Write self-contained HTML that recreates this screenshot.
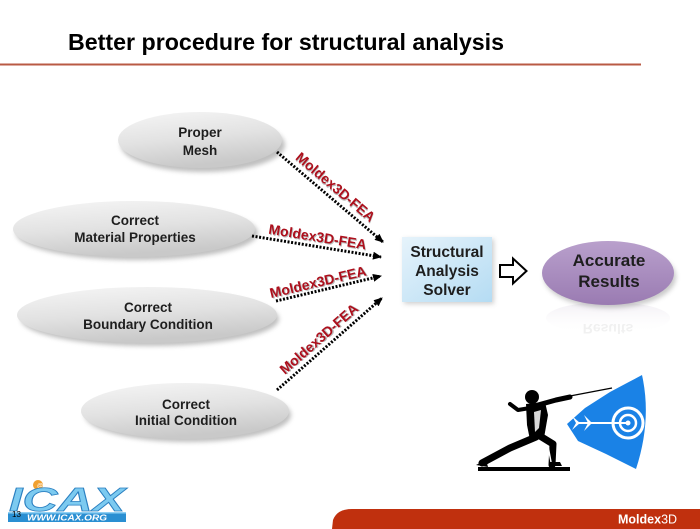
<!DOCTYPE html>
<html><head><meta charset="utf-8">
<style>
html,body{margin:0;padding:0;background:#fff;}
svg{display:block;}
text{font-family:"Liberation Sans",Arial,sans-serif;}
</style></head>
<body>
<svg width="700" height="529" viewBox="0 0 700 529" xmlns="http://www.w3.org/2000/svg">
<defs>
  <linearGradient id="gEll" x1="0" y1="0" x2="0.3" y2="1">
    <stop offset="0" stop-color="#f6f6f6"/>
    <stop offset="0.55" stop-color="#e2e2e2"/>
    <stop offset="1" stop-color="#c9c9c9"/>
  </linearGradient>
  <linearGradient id="gBox" x1="0" y1="0" x2="1" y2="1">
    <stop offset="0" stop-color="#e6f3fb"/>
    <stop offset="1" stop-color="#b5dcf3"/>
  </linearGradient>
  <linearGradient id="gPur" x1="0" y1="0" x2="0" y2="1">
    <stop offset="0" stop-color="#b9a0cc"/>
    <stop offset="1" stop-color="#9a7bb2"/>
  </linearGradient>
  <linearGradient id="gRefl" x1="0" y1="0" x2="0" y2="1">
    <stop offset="0" stop-color="#c8bcd2" stop-opacity="0.25"/>
    <stop offset="1" stop-color="#ffffff" stop-opacity="0"/>
  </linearGradient>
  <filter id="blur" x="-20%" y="-40%" width="140%" height="180%">
    <feGaussianBlur stdDeviation="2.5"/>
  </filter>
  <marker id="ah" markerWidth="10" markerHeight="8" refX="8" refY="4" orient="auto" markerUnits="userSpaceOnUse">
    <path d="M0,0 L9,4 L0,8 Z" fill="#000"/>
  </marker>
</defs>

<!-- Title -->
<text x="68" y="50" font-size="23" font-weight="bold" fill="#000" textLength="436" lengthAdjust="spacingAndGlyphs">Better procedure for structural analysis</text>
<rect x="0" y="63.5" width="641" height="2" fill="#b95a44"/>

<!-- Ellipse shadows -->
<g filter="url(#blur)" fill="#8a8a8a" opacity="0.55">
  <ellipse cx="203" cy="145" rx="82" ry="27"/>
  <ellipse cx="137" cy="233" rx="121" ry="27"/>
  <ellipse cx="150" cy="319" rx="129" ry="27"/>
  <ellipse cx="188" cy="415" rx="103" ry="27"/>
</g>
<!-- Ellipses -->
<ellipse cx="200" cy="140" rx="82" ry="28" fill="url(#gEll)"/>
<ellipse cx="134" cy="229" rx="121" ry="28" fill="url(#gEll)"/>
<ellipse cx="147" cy="315" rx="130" ry="28" fill="url(#gEll)"/>
<ellipse cx="185" cy="411" rx="104" ry="28" fill="url(#gEll)"/>

<g font-size="13.5" font-weight="bold" fill="#1e1e1e" text-anchor="middle">
  <text x="200" y="137">Proper</text>
  <text x="200" y="155">Mesh</text>
  <text x="135" y="225">Correct</text>
  <text x="135" y="242">Material Properties</text>
  <text x="148" y="312">Correct</text>
  <text x="148" y="329">Boundary Condition</text>
  <text x="186" y="409">Correct</text>
  <text x="186" y="425">Initial Condition</text>
</g>

<!-- Dotted arrows -->
<g stroke="#000" stroke-width="3" stroke-dasharray="2 1.6" fill="none" marker-end="url(#ah)">
  <line x1="277" y1="152" x2="383" y2="242"/>
  <line x1="252" y1="236" x2="381" y2="257"/>
  <line x1="276" y1="301" x2="381" y2="276"/>
  <line x1="277" y1="390" x2="382" y2="298"/>
</g>

<!-- Labels -->
<g font-size="14" font-weight="bold" text-anchor="middle">
  <g transform="translate(327,194) rotate(40.3)">
    <text x="3" y="-5" fill="#777" opacity="0.5">Moldex3D-FEA</text>
    <text x="2" y="-6" fill="#ad0f1c">Moldex3D-FEA</text>
  </g>
  <g transform="translate(316,246.5) rotate(9.2)">
    <text x="1" y="-4" fill="#777" opacity="0.5">Moldex3D-FEA</text>
    <text x="0" y="-5" fill="#ad0f1c">Moldex3D-FEA</text>
  </g>
  <g transform="translate(320,290.6) rotate(-13.4)">
    <text x="1" y="-3" fill="#777" opacity="0.5">Moldex3D-FEA</text>
    <text x="0" y="-4" fill="#ad0f1c">Moldex3D-FEA</text>
  </g>
  <g transform="translate(326,347) rotate(-41.2)">
    <text x="1" y="-5" fill="#777" opacity="0.5">Moldex3D-FEA</text>
    <text x="0" y="-6" fill="#ad0f1c">Moldex3D-FEA</text>
  </g>
</g>

<!-- Solver box -->
<rect x="404" y="239" width="90" height="65" fill="#999" opacity="0.45" filter="url(#blur)"/>
<rect x="402" y="237" width="90" height="65" fill="url(#gBox)"/>
<g font-size="15.5" font-weight="bold" fill="#1e1e1e" text-anchor="middle">
  <text x="447" y="257">Structural</text>
  <text x="447" y="276">Analysis</text>
  <text x="447" y="295">Solver</text>
</g>

<!-- Hollow arrow -->
<path d="M500,265 L513,265 L513,258.5 L526.5,271 L513,283.5 L513,277 L500,277 Z" fill="#fff" stroke="#000" stroke-width="2" stroke-linejoin="miter"/>

<!-- Accurate Results -->
<ellipse cx="608" cy="318" rx="62" ry="16" fill="url(#gRefl)"/>
<text x="608" y="330" font-size="14" font-weight="bold" fill="#e4e4e4" text-anchor="middle" opacity="0.5" transform="translate(0,654) scale(1,-1)">Results</text>
<ellipse cx="610" cy="277" rx="66" ry="31" fill="#888" opacity="0.45" filter="url(#blur)"/>
<ellipse cx="608" cy="273" rx="66" ry="32" fill="url(#gPur)"/>
<g font-size="17" font-weight="bold" fill="#1e1e1e" text-anchor="middle">
  <text x="609" y="266">Accurate</text>
  <text x="609" y="287">Results</text>
</g>

<!-- Target wedge -->
<path d="M610,392 L642,375 Q652,420 636,469 L606,454 L578,441 L567,424 L585,408 Z" fill="#1a82e6"/>
<g fill="none" stroke="#fff">
  <circle cx="628" cy="423" r="15" stroke-width="3"/>
  <circle cx="628" cy="423" r="8" stroke-width="2.5"/>
</g>
<circle cx="628" cy="423" r="2.5" fill="#fff"/>
<line x1="578" y1="423" x2="628" y2="423" stroke="#fff" stroke-width="2"/>
<path d="M584,415 L592,423 L584,431 L588,423 Z" fill="#fff"/>
<path d="M572,416 L580,423 L572,430 L576,423 Z" fill="#fff"/>

<!-- Fencer -->
<rect x="478" y="467" width="92" height="4" fill="#000"/>
<line x1="570" y1="396" x2="612" y2="388" stroke="#000" stroke-width="1.3"/>
<g stroke="#000" stroke-linecap="round" stroke-linejoin="round" fill="none">
  <path d="M536,437 L510,448 L482,463" stroke-width="7"/>
  <path d="M540,436 L553,444 L552,465" stroke-width="7"/>
  <path d="M538,405 L556,400 L570,397" stroke-width="5"/>
  <path d="M530,408 L518,410 L510,404" stroke-width="4"/>
</g>
<path d="M526,404 L545,402 L548,415 L544,438 L530,440 L527,425 Z" fill="#000"/>
<circle cx="532" cy="397" r="7" fill="#000"/>
<path d="M534,412 L541,410 L539,428 L535,432 Z" fill="#fff" opacity="0.85"/>
<path d="M548,446 L551,462" stroke="#fff" stroke-width="1.5"/>
<path d="M476,465 L486,460 L488,467 Z" fill="#000"/>
<path d="M549,466 L562,466 L560,462 L550,462 Z" fill="#000"/>

<!-- ICAX logo -->
<circle cx="38" cy="485" r="5" fill="#f0a030"/>
<text x="40" y="487.5" font-size="6" fill="#fff" text-anchor="middle">@</text>
<text x="9" y="511" font-size="33" font-style="italic" font-weight="bold" fill="#7ccaf0" stroke="#2a7fc0" stroke-width="0.8" textLength="116" lengthAdjust="spacingAndGlyphs">ICAX</text>
<rect x="8" y="512" width="118" height="10" fill="#2a8fd2"/>
<rect x="8" y="512" width="118" height="1.5" fill="#8fd0f4"/>
<text x="67" y="520.5" font-size="8" font-weight="bold" font-style="italic" fill="#fff" text-anchor="middle" textLength="80" lengthAdjust="spacingAndGlyphs">WWW.ICAX.ORG</text>
<text x="12" y="517" font-size="8" fill="#000">13</text>

<!-- Footer bar -->
<path d="M332,529 L333,520 Q337,509 352,509 L700,509 L700,529 Z" fill="#c0300e"/>
<text x="618" y="523.5" font-size="12.5" fill="#fff"><tspan font-weight="bold">Moldex</tspan><tspan>3D</tspan></text>
</svg>
</body></html>
